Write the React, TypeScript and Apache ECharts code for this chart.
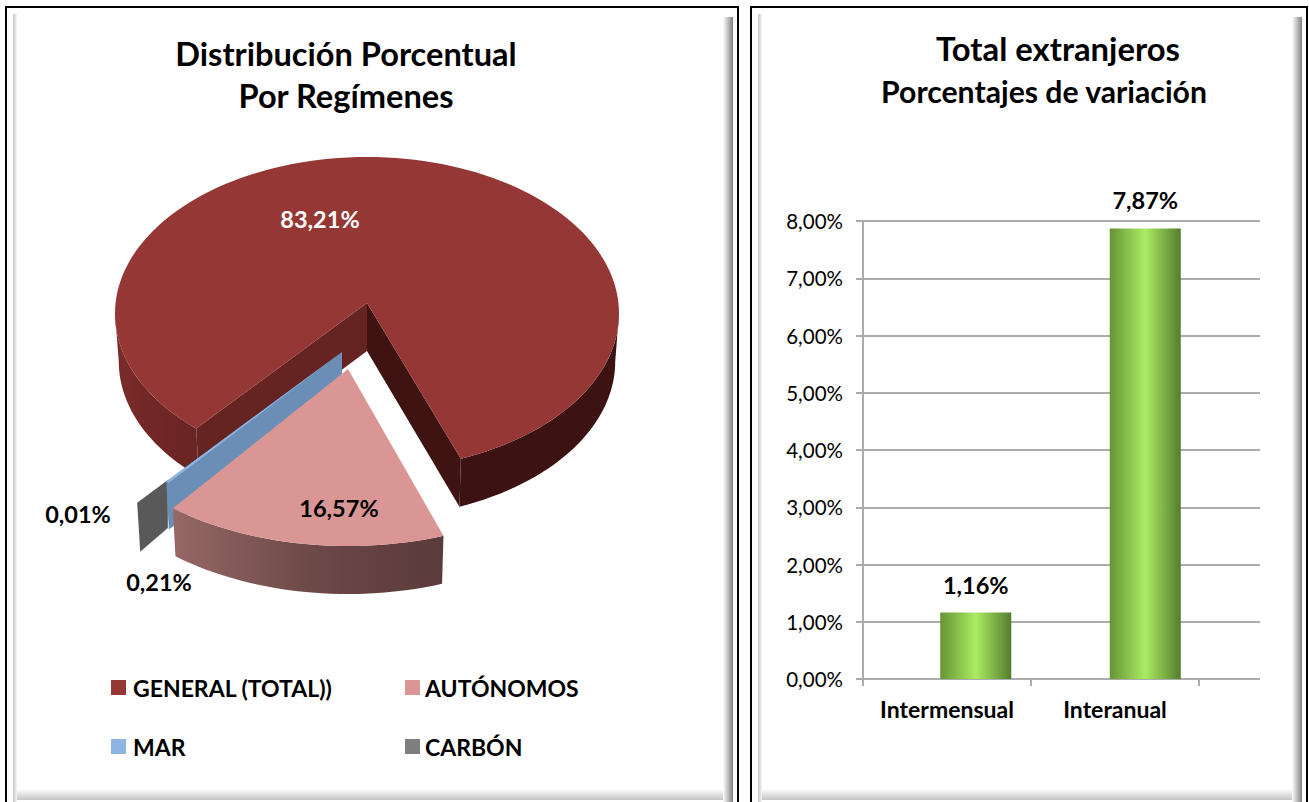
import React, { useEffect, useRef } from "react";
import * as echarts from "echarts";

const regimenNames = ["GENERAL (TOTAL))", "AUTÓNOMOS", "MAR", "CARBÓN"];
const regimenValues = [83.21, 16.57, 0.21, 0.01];
const regimenColors = ["#953735", "#D99694", "#8EB4E3", "#7F7F7F"];

const variationCategories = ["Intermensual", "Interanual"];
const variationValues = [1.16, 7.87];
const FONT = "Lato";

const fmt = (v: number) => v.toFixed(2).replace(".", ",") + "%";

// Fake-3D pie projection
const CX = 367, CY = 313.5, RX = 252, RY = 156.5, APX = 367, APY = 303, DEPTH = 48;
const START = 220.2;
const WARP = 2.5;
const total = regimenValues.reduce((a, b) => a + b, 0);
const rad = (d: number) => (d * Math.PI) / 180;
const sliceAngles = regimenValues.map((_, i) => {
  const before = regimenValues.slice(0, i).reduce((a, b) => a + b, 0);
  return [START + (before / total) * 360, START + ((before + regimenValues[i]) / total) * 360];
});
const rim = (deg: number, warp: number) => {
  const d = deg + warp * Math.sin(rad(2 * deg));
  return [CX + RX * Math.sin(rad(d)), CY - RY * Math.cos(rad(d))];
};
type Frame = { ax: number; ay: number; sx: number; sy: number; warp: number };
const pt = (deg: number, f: Frame, t = 1) => {
  const r = rim(deg, f.warp);
  return [f.ax + f.sx * t * (r[0] - APX), f.ay + f.sy * t * (r[1] - APY)];
};
const arcPts = (a0: number, a1: number, f: Frame) => {
  const n = Math.max(2, Math.ceil(Math.abs(a1 - a0) / 2));
  const out: number[][] = [];
  for (let i = 0; i <= n; i++) out.push(pt(a0 + ((a1 - a0) * i) / n, f));
  return out;
};
const down = (p: number[], ax: number, d = DEPTH) => [ax + (p[0] - ax) * 0.985, p[1] + d];
const poly = (points: number[][], fill: any) => ({ type: "polygon", shape: { points }, style: { fill } });
const hGrad = (stops: string[]) =>
  new echarts.graphic.LinearGradient(0, 0, 1, 0, stops.map((color, i) => ({ offset: i / (stops.length - 1), color })));
const text = (value: number, x: number, y: number, fill: string) => ({
  type: "text",
  z2: 100,
  style: { text: fmt(value), x, y, fill, font: `bold 23.5px ${FONT}`, align: "center", verticalAlign: "middle" },
});

function sideWall(top: number[][], fill: any, ax: number) {
  const bottom = top.map((p) => down(p, ax)).reverse();
  return poly([...top, ...bottom], fill);
}

const renderGeneral = (_: any, api: any) => {
  const [a0, a1] = sliceAngles[0];
  const f: Frame = { ax: APX, ay: APY, sx: 1, sy: 1, warp: WARP };
  const apex = [APX, APY];
  const end = pt(a1 - 360, f);
  const begin = pt(a0, f);
  return {
    type: "group",
    children: [
      sideWall(arcPts(a0, 270, f), hGrad(["#7a2b2a", "#702725", "#692423"]), APX),
      sideWall(arcPts(a1 - 360, 90, f), "#3C1212", APX),
      sideWall([apex, begin], "#652322", APX),
      sideWall([apex, end], "#401313", APX),
      poly([apex, ...arcPts(a0, a1, f)], regimenColors[0]),
      text(api.value(0), 320, 219, "#FFFFFF"),
    ],
  };
};

const renderAutonomos = (_: any, api: any) => {
  const [a0, a1] = sliceAngles[1];
  const f: Frame = { ax: 348, ay: 369, sx: 1.095, sy: 1.06, warp: 0 };
  return {
    type: "group",
    children: [
      sideWall(arcPts(a0, a1, f), hGrad(["#966867", "#6d4948", "#5A3A3A"]), f.ax),
      poly([[f.ax, f.ay], ...arcPts(a0, a1, f)], regimenColors[1]),
      text(api.value(0), 339, 508, "#000000"),
    ],
  };
};

const renderMar = (_: any, api: any) => {
  const [a0, a1] = sliceAngles[2];
  const f: Frame = { ax: 342, ay: 352, sx: 1.03, sy: 1.03, warp: WARP };
  return {
    type: "group",
    children: [
      sideWall([[f.ax, f.ay], pt(a1, f)], "#6A8EB6", f.ax),
      poly([[f.ax, f.ay], ...arcPts(a0, a1, f)], regimenColors[2]),
      text(api.value(0), 159, 582, "#000000"),
    ],
  };
};

const renderCarbon = (_: any, api: any) => {
  const [a0, a1] = sliceAngles[3];
  const f: Frame = { ax: 342, ay: 352, sx: 1.2, sy: 1.2, warp: WARP };
  const inner = pt(a1, f, 0.85);
  const outer = pt(a0, f);
  return {
    type: "group",
    children: [
      poly([inner, outer, [outer[0] + 3, outer[1] + 49], [inner[0], inner[1] + DEPTH]], "#595959"),
      text(api.value(0), 78, 514, "#000000"),
    ],
  };
};

const panel = (x: number, w: number) => {
  const y = 7, h = 810;
  return [
    { type: "rect", z: -10, shape: { x, y, width: w, height: h }, style: { fill: "#FFFFFF", stroke: "#000000", lineWidth: 2 } },
    {
      type: "rect", z: -9, shape: { x: x + 7, y: y + 7, width: 4, height: 790 },
      style: { fill: new echarts.graphic.LinearGradient(0, 0, 1, 0, [{ offset: 0, color: "#c8c8c8" }, { offset: 1, color: "#f4f4f4" }]) },
    },
    {
      type: "rect", z: -9, shape: { x: x + w - 15, y: y + 10, width: 10, height: 790 },
      style: { fill: new echarts.graphic.LinearGradient(0, 0, 1, 0, [{ offset: 0, color: "#FFFFFF" }, { offset: 1, color: "#808080" }]) },
    },
    {
      type: "rect", z: -9, shape: { x: x + 11, y: 789, width: w - 26, height: 11 },
      style: { fill: new echarts.graphic.LinearGradient(0, 0, 0, 1, [{ offset: 0, color: "#FFFFFF" }, { offset: 1, color: "#c4c4c4" }]) },
    },
  ];
};

const legendAt = (name: string, left: number, top: number, pad: number) => ({
  data: [name],
  left,
  top,
  padding: 0,
  itemWidth: 15,
  itemHeight: 15,
  selectedMode: false,
  icon: "rect",
  textStyle: { fontFamily: FONT, fontWeight: "bold", fontSize: 23, color: "#000000", padding: [0, 0, 0, pad] },
});

const titleAt = (txt: string, left: number, top: number, size: number) => ({
  text: txt,
  left,
  top,
  textAlign: "center",
  padding: 0,
  textStyle: { fontFamily: FONT, fontWeight: "bold", fontSize: size, lineHeight: 42, color: "#000000" },
});

const pieSeries = (i: number, renderItem: any, z: number) => ({
  type: "custom",
  name: regimenNames[i],
  coordinateSystem: "none",
  renderItem,
  z,
  silent: true,
  itemStyle: { color: regimenColors[i] },
  data: [[regimenValues[i]]],
});

const GRID_TOP = 221, GRID_H = 458;
const axisGrey = "#ABABAB";

const option: any = {
  animation: false,
  backgroundColor: "#FFFFFF",
  textStyle: { fontFamily: FONT },
  title: [
    titleAt("Distribución Porcentual\nPor Regímenes", 346, 32, 32.6),
    titleAt("Total extranjeros", 1058, 27, 32.8),
    titleAt("Porcentajes de variación", 1044, 70, 30.2),
  ],
  legend: [
    legendAt(regimenNames[0], 111, 676, 2),
    legendAt(regimenNames[1], 405, 676, 0),
    legendAt(regimenNames[2], 111, 735, 2),
    legendAt(regimenNames[3], 405, 735, 0),
  ],
  grid: [
    { left: 863, width: 336, top: GRID_TOP, height: GRID_H },
    { left: 863, width: 397, top: GRID_TOP, height: GRID_H },
    { left: 891, width: 339, top: GRID_TOP, height: GRID_H },
  ],
  xAxis: [
    {
      gridIndex: 0,
      type: "category",
      data: variationCategories,
      axisLine: { show: true, lineStyle: { color: axisGrey, width: 2 } },
      axisTick: { show: true, interval: 0, length: 7, lineStyle: { color: axisGrey, width: 2 } },
      axisLabel: { interval: 0, hideOverlap: false, fontFamily: FONT, fontWeight: "bold", fontSize: 23, color: "#000000", margin: 18 },
    },
    { gridIndex: 1, type: "category", show: false, data: variationCategories },
    { gridIndex: 2, type: "category", show: false, data: variationCategories },
  ],
  yAxis: [
    { gridIndex: 0, type: "value", show: false, min: 0, max: 8, interval: 1, splitLine: { show: false } },
    {
      gridIndex: 1,
      type: "value",
      min: 0,
      max: 8,
      interval: 1,
      axisLine: { show: true, lineStyle: { color: axisGrey, width: 2 } },
      axisTick: { show: true, length: 7, lineStyle: { color: axisGrey, width: 2 } },
      axisLabel: { fontFamily: FONT, fontSize: 20.5, color: "#000000", margin: 20, formatter: (v: number) => fmt(v) },
      splitLine: { show: true, lineStyle: { color: axisGrey, width: 2 } },
    },
    { gridIndex: 2, type: "value", show: false, min: 0, max: 8, interval: 1, splitLine: { show: false } },
  ],
  series: [
    pieSeries(0, renderGeneral, 3),
    pieSeries(3, renderCarbon, 4),
    pieSeries(2, renderMar, 5),
    pieSeries(1, renderAutonomos, 6),
    {
      type: "bar",
      xAxisIndex: 2,
      yAxisIndex: 2,
      data: variationValues,
      barWidth: 71,
      z: 5,
      silent: true,
      itemStyle: {
        color: new echarts.graphic.LinearGradient(0, 0, 1, 0, [
          { offset: 0, color: "#669435" },
          { offset: 0.5, color: "#AAEC63" },
          { offset: 1, color: "#557D2D" },
        ]),
      },
      label: {
        show: true,
        position: "top",
        distance: 16,
        fontFamily: FONT,
        fontWeight: "bold",
        fontSize: 23.5,
        color: "#000000",
        formatter: (p: any) => fmt(p.value),
      },
    },
  ],
  graphic: { elements: [...panel(6, 732), ...panel(751, 556)] },
};

export default function App() {
  const ref = useRef<HTMLDivElement>(null);
  useEffect(() => {
    const chart = echarts.init(ref.current!, undefined, { renderer: "svg" });
    chart.setOption(option);
    return () => chart.dispose();
  }, []);
  return <div ref={ref} style={{ position: "absolute", left: 0, top: 0, width: 1309, height: 802, overflow: "hidden" }} />;
}
